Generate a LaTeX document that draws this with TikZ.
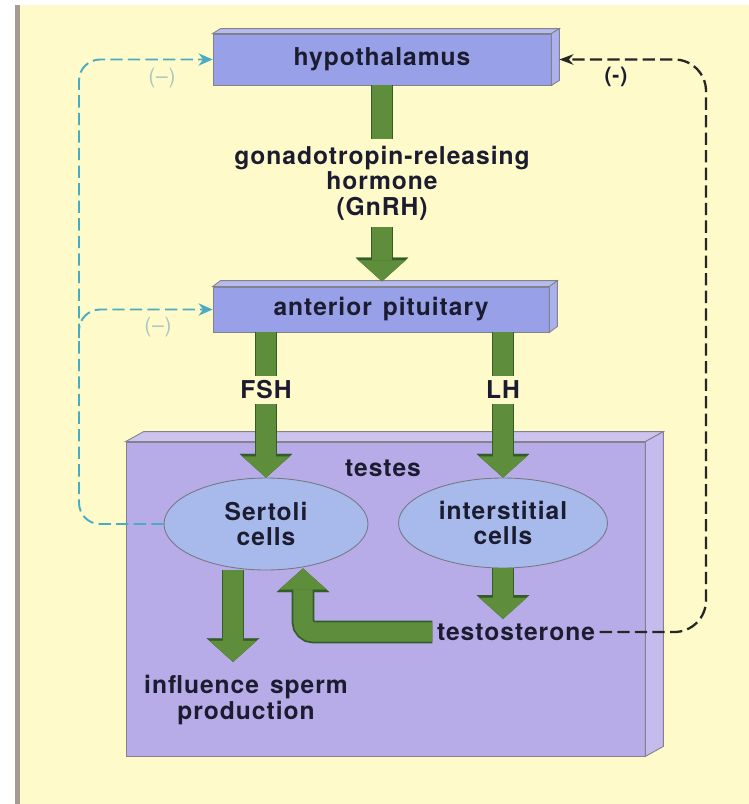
\documentclass[tikz,border=0pt]{standalone}
\usepackage{fontspec}
\newfontfamily\lblfont[LetterSpace=4,WordSpace=1.4]{TeX Gyre Heros}
\usepackage{tikz}
\usetikzlibrary{calc,arrows.meta,shapes.geometric}

\definecolor{paper}{RGB}{255,250,202}
\definecolor{rulegray}{RGB}{165,155,145}
\definecolor{organ}{RGB}{152,160,232}
\definecolor{testesfill}{RGB}{184,172,232}
\definecolor{cellfill}{RGB}{168,186,236}
\definecolor{hormone}{RGB}{94,142,60}
\definecolor{hormoneedge}{RGB}{52,92,38}
\definecolor{inkblue}{RGB}{28,28,48}
\definecolor{fbcyan}{RGB}{72,172,196}
\definecolor{fbfaint}{RGB}{165,200,198}

% top and right faces of a slab, drawn on a named front face
\def\boxfaces(#1)(#2:#3)#4{%
	\draw[faceedge, fill=#4!72!white] (#1.north west) -- ++(#2,#3) -- ($(#1.north east)+(#2,#3)$) -- (#1.north east) -- cycle;
	\draw[faceedge, fill=#4!82!white] (#1.north east) -- ++(#2,#3) -- ($(#1.south east)+(#2,#3)$) -- (#1.south east) -- cycle;}

\tikzset{
	faceedge/.style={draw=inkblue!55, line width=0.5pt},
	lbl/.style={font={\lblfont\bfseries\fontsize{14}{14.5}\selectfont}, text=inkblue, align=center, inner sep=2.5pt},
	organbox/.style={lbl, draw=inkblue!55, line width=0.5pt, fill=organ},
	cell/.style={lbl, ellipse, draw=inkblue!60, line width=0.5pt, fill=cellfill, inner sep=0pt},
	gshaft/.style={draw=hormone, line width=11pt, preaction={draw=hormoneedge, line width=13pt}},
	garrow/.style={draw=hormone, line width=11pt, -{Triangle[width=27pt,length=12pt,line width=0.1pt]},
		preaction={draw=hormoneedge, line width=13pt, -{Triangle[width=30pt,length=13.5pt,line width=0.1pt]}}},
	fbline/.style={dash pattern=on 7pt off 3pt, line width=1.3pt},
	negblack/.style={fbline, draw=black!85, rounded corners=18pt, -{Stealth[length=8pt,width=6pt]}},
	negcyan/.style={fbline, draw=fbcyan, line width=1.1pt, rounded corners=12pt, -{Stealth[length=8pt,width=7pt]}},
	faint/.style={font={\lblfont\fontsize{12}{12}\selectfont}, text=fbfaint}
}

\begin{document}
\begin{tikzpicture}[x=0.02cm,y=-0.02cm]
	%%%%% START %%%%%
	\useasboundingbox (0,0) rectangle (749,804);
	\fill[white] (0,0) rectangle (749,804);
	\fill[paper] (15,5) rectangle (749,804);
	\fill[rulegray] (15,5) rectangle (20,804);
	
	% organs
	\node[organbox, fill=testesfill, minimum width=10.38cm, minimum height=6.28cm] (testes) at (385.5,599) {};
	\boxfaces(testes)(18:-10){testesfill}
	\node[organbox, minimum width=6.76cm, minimum height=1.02cm] (hypo) at (382,59.5) {hypothalamus};
	\boxfaces(hypo)(8:-5){organ}
	\node[organbox, minimum width=6.72cm, minimum height=0.9cm] (pit) at (381,309.5) {anterior pituitary};
	\boxfaces(pit)(8:-6){organ}
	
	\node[lbl] (testeslbl) at (383,468) {testes};
	\node[cell, minimum width=4.08cm, minimum height=1.84cm] (sertoli) at (266,524) {Sertoli\\cells};
	\node[cell, minimum width=4.18cm, minimum height=1.8cm] (inter) at (503,523) {interstitial\\cells};
	
	% hormones
	\node[lbl, inner sep=4pt] (gnrh) at (382,183) {gonadotropin-releasing\\hormone\\(GnRH)};
	\node[lbl] (fsh) at (266,390) {FSH};
	\node[lbl] (lh) at (503,390) {LH};
	\node[lbl] (testo) at (516,632) {testosterone};
	\node[lbl] (sperm) at (246,700) {influence sperm\\production};
	
	\draw[gshaft] (hypo.south) -- (gnrh.north);
	\draw[garrow, shorten >=3pt] (gnrh.south) -- (gnrh.south |- pit.north);
	\draw[gshaft] (pit.south -| fsh) -- (fsh.north);
	\draw[garrow] (fsh.south) -- (sertoli.north);
	\draw[gshaft] (pit.south -| lh) -- (lh.north);
	\draw[garrow] (lh.south) -- (inter.north);
	\draw[garrow] (inter.south) -- (inter.south |- testo.north);
	\coordinate (sp) at ($(sertoli.south)+(-33,0)$);
	\draw[garrow, shorten >=5pt] (sp) -- (sp |- sperm.north);
	\draw[garrow, rounded corners=6pt] (testo.west) -| ($(sertoli.south)+(37,-2)$);
	
	% negative feedback
	\coordinate (leftrail) at (79,300);
	\coordinate (pitbranch) at (79,338);
	\coordinate (rightrail) at (706,300);
	\draw[negcyan] (sertoli.west) -| (leftrail) |- (hypo.west);
	\draw[negcyan] (pitbranch) |- (pit.west);
	\draw[negblack] (testo.east) -| (rightrail) |- ($(hypo.east)+(8,0)$);
	
	\node[faint] (negtop) at (162,78) {(\textendash)};
	\node[faint] (negmid) at (158,327) {(\textendash)};
	\node[lbl, font={\lblfont\bfseries\fontsize{12}{12}\selectfont}] (negright) at (616,77) {(-)};
	%%%%% END %%%%%
\end{tikzpicture}
\end{document}
